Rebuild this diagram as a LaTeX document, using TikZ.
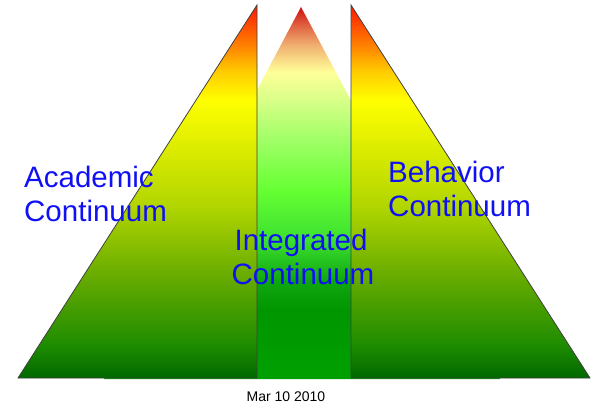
\documentclass[tikz,border=0pt]{standalone}
\usepackage{fontspec}
\setmainfont{Liberation Sans}
\definecolor{lblue}{RGB}{16,16,245}
\definecolor{c0}{RGB}{0,104,0}
\definecolor{c1}{RGB}{30,140,0}
\definecolor{c2}{RGB}{104,172,0}
\definecolor{c3}{RGB}{178,214,0}
\definecolor{c4}{RGB}{255,255,0}
\definecolor{c5}{RGB}{255,200,0}
\definecolor{c6}{RGB}{255,128,0}
\definecolor{c7}{RGB}{255,24,0}
\pgfdeclareverticalshading{sideshade}{100bp}{
  color(0bp)=(c0); color(25bp)=(c0); color(29.42bp)=(c1); color(38.81bp)=(c2); color(48.19bp)=(c3);
  color(62.27bp)=(c4); color(66.29bp)=(c5); color(69.64bp)=(c6); color(75bp)=(c7); color(100bp)=(c7)}
\definecolor{m0}{RGB}{0,160,0}
\definecolor{m1}{RGB}{0,150,0}
\definecolor{m2}{RGB}{16,168,16}
\definecolor{m3}{RGB}{61,224,48}
\definecolor{m4}{RGB}{102,255,51}
\definecolor{m5}{RGB}{160,255,102}
\definecolor{m6}{RGB}{216,255,136}
\definecolor{m7}{RGB}{255,255,153}
\definecolor{m8}{RGB}{240,176,112}
\definecolor{m9}{RGB}{224,96,64}
\definecolor{m10}{RGB}{204,16,16}
\pgfdeclareverticalshading{midshade}{100bp}{
  color(0bp)=(m0); color(25bp)=(m0); color(34.27bp)=(m1); color(38.31bp)=(m2); color(43.68bp)=(m3);
  color(50.40bp)=(m4); color(57.12bp)=(m5); color(62.50bp)=(m6); color(66.26bp)=(m7);
  color(69.89bp)=(m8); color(72.58bp)=(m9); color(75bp)=(m10); color(100bp)=(m10)}
\tikzset{
  sideface/.style={shading=sideshade, draw=black!75, line width=0.8pt, line join=miter},
  midface/.style={shading=midshade},
  lbl/.style={text=lblue, font=\fontsize{29.5}{33}\selectfont, inner sep=0pt, align=left, anchor=base west},
  datelbl/.style={font=\fontsize{14}{16}\selectfont, inner sep=0pt, anchor=base}
}
\begin{document}
\begin{tikzpicture}[x=1pt,y=-1pt]
\useasboundingbox (0,0) rectangle (592,406);
% middle triangle
\shade[midface] (301,7) -- (104,379) -- (500,379) -- cycle;
% left and right faces
\shade[sideface] (257,5) -- (18,378) -- (257,378) -- cycle;
\shade[sideface] (351,5) -- (351,378) -- (590,378) -- cycle;
% labels
\node[lbl] (acad) at (24,188) {Academic};
\node[lbl] (acad2) at (24,222) {Continuum};
\node[lbl] (beh) at (388,183) {Behavior};
\node[lbl] (beh2) at (388,217) {Continuum};
\node[lbl, anchor=base] (integ) at (301,251) {Integrated};
\node[lbl, anchor=base] (integ2) at (303,285) {Continuum};
\node[datelbl] (date) at (286,401) {Mar 10 2010};
\end{tikzpicture}
\end{document}
